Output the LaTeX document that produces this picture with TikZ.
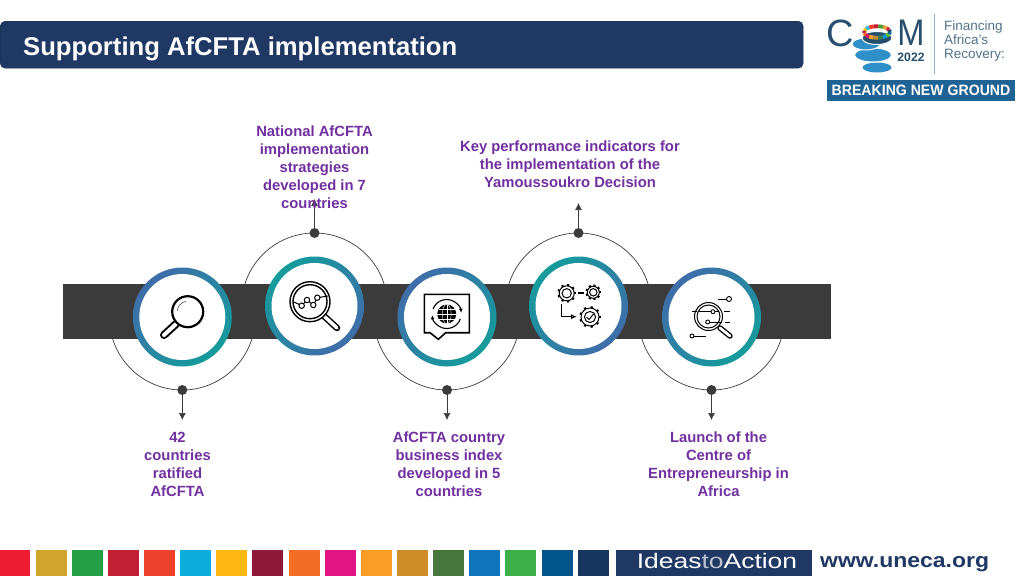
\documentclass[tikz,border=0pt]{standalone}
\usepackage{fontspec}
\setmainfont{Liberation Sans}
\usepackage{tikz}
\usetikzlibrary{arrows.meta}
\definecolor{navy}{HTML}{1F3864}
\definecolor{barcolor}{HTML}{3B3B3B}
\definecolor{ringblue}{HTML}{3F6DAA}
\definecolor{ringteal}{HTML}{149C9B}
\definecolor{purpletext}{HTML}{7030A0}
\definecolor{logoblue}{HTML}{1F6395}
\definecolor{logodark}{HTML}{264F6E}
\definecolor{coinblue}{HTML}{2E8FC9}
\tikzstyle{titlebar} = [rectangle, rounded corners=5pt, draw=navy!80!black, fill=navy, minimum width=803pt, minimum height=47pt, anchor=north west]
\tikzstyle{titletext} = [text=white, anchor=west, inner sep=0pt, font=\fontsize{25.65}{30}\selectfont\bfseries]
\tikzstyle{band} = [rectangle, fill=barcolor, draw=none, minimum width=768pt, minimum height=55pt]
\tikzstyle{ringdown} = [circle, inner sep=0pt, minimum size=99pt, top color=ringblue, bottom color=ringteal, shading angle=45]
\tikzstyle{ringup} = [circle, inner sep=0pt, minimum size=99pt, top color=ringteal, bottom color=ringblue, shading angle=45]
\tikzstyle{disc} = [circle, inner sep=0pt, minimum size=86pt, fill=white]
\tikzstyle{dot} = [circle, inner sep=0pt, minimum size=10pt, fill=barcolor]
\tikzstyle{arrow} = [line width=0.7pt, barcolor, -{Latex[length=7pt,width=7pt]}]
\tikzstyle{orbit} = [line width=0.7pt, barcolor]
\tikzstyle{caption} = [text=purpletext, align=center, inner sep=0pt, font=\fontsize{14.8}{18}\selectfont\bfseries]
\tikzstyle{icon} = [line width=1.4pt, black]
\tikzstyle{swatch} = [rectangle, inner sep=0pt, minimum width=31pt, minimum height=26.5pt, anchor=north west]
\newcommand{\gearicon}[3]{%
  \foreach \a in {0,40,...,320} \draw [line width=2.2pt] (#1,#2) ++(\a:#3pt) -- ++(\a:1.8pt);
  \draw [icon, line width=1pt, fill=white] (#1,#2) circle (#3pt);
  \draw [icon, line width=1pt] (#1,#2) circle (#3pt*0.62);
}

\begin{document}
\begin{tikzpicture}[x=1pt, y=-1pt]
\useasboundingbox (0,0) rectangle (1024,576);

\node (header) [titlebar] at (0,21) {};
\node (title) [titletext] at (23,49) {Supporting AfCFTA implementation};

\node (band) [band] at (447,311.5) {};

% orbits
\draw [orbit] (182.3,317) ++(197.5:73pt) arc [start angle=197.5, end angle=342.5, radius=73pt];
\draw [orbit] (314.5,306) ++(17.5:73pt) arc [start angle=17.5, end angle=162.5, radius=73pt];
\draw [orbit] (447,317) ++(197.5:73pt) arc [start angle=197.5, end angle=342.5, radius=73pt];
\draw [orbit] (578.5,306) ++(17.5:73pt) arc [start angle=17.5, end angle=162.5, radius=73pt];
\draw [orbit] (711.5,317) ++(197.5:73pt) arc [start angle=197.5, end angle=342.5, radius=73pt];

\node (ringa) [ringdown] at (182.3,317) {};
\node (ringb) [ringup] at (314.5,306) {};
\node (ringc) [ringdown] at (447,317) {};
\node (ringd) [ringup] at (578.5,306) {};
\node (ringe) [ringdown] at (711.5,317) {};
\node (disca) [disc] at (ringa) {};
\node (discb) [disc] at (ringb) {};
\node (discc) [disc] at (ringc) {};
\node (discd) [disc] at (ringd) {};
\node (disce) [disc] at (ringe) {};

\node (dota) [dot] at (182.3,390) {};
\node (dotb) [dot] at (314.5,233) {};
\node (dotc) [dot] at (447,390) {};
\node (dotd) [dot] at (578.5,233) {};
\node (dote) [dot] at (711.5,390) {};
\coordinate (tipa) at (182.3,420);
\coordinate (tipb) at (314.5,199);
\coordinate (tipc) at (447,420);
\coordinate (tipd) at (578.5,203);
\coordinate (tipe) at (711.5,420);
\draw [arrow] (dota) -- (tipa);
\draw [arrow] (dotb) -- (tipb);
\draw [arrow] (dotc) -- (tipc);
\draw [arrow] (dotd) -- (tipd);
\draw [arrow] (dote) -- (tipe);

\node (textb) [caption] at (314.5,167) {National AfCFTA\\implementation\\strategies\\developed in 7\\countries};
\node (textd) [caption] at (570,164) {Key performance indicators for\\the implementation of the\\Yamoussoukro Decision};
\node (texta) [caption] at (177.5,464) {42\\countries\\ratified\\AfCFTA};
\node (textc) [caption] at (449,464) {AfCFTA country\\business index\\developed in 5\\countries};
\node (texte) [caption] at (718.5,464) {Launch of the\\Centre of\\Entrepreneurship in\\Africa};

% magnifier icon
\draw [line width=8pt, line cap=round, black] (176,324) -- (164,335);
\draw [line width=4pt, line cap=round, white] (176,324) -- (164,335);
\draw [icon, line width=2.2pt, fill=white] (187.7,311.7) circle (15.5pt);
\draw [line width=0.6pt, black!70] (187.7,311.7) ++(100:10.5pt) arc [start angle=100, end angle=175, radius=10.5pt];

% chart icon
\draw [line width=6.5pt, line cap=round, black] (324,316) -- (337,328);
\draw [line width=3.5pt, line cap=round, white] (324,316) -- (337,328);
\draw [icon, fill=white] (310,301.7) circle (20pt);
\draw [icon] (310,301.7) circle (17pt);
\draw [line width=1pt] (294,302) -- (301.7,305.7) -- (307,300) -- (313.3,305) -- (317.3,297.7) -- (328,296);
\foreach \px/\py in {301.7/305.7, 307/300, 313.3/305, 317.3/297.7}
  \draw [line width=1pt, fill=white] (\px,\py) circle (2.7pt);

% globe icon
\draw [icon, line width=1.6pt, line join=miter] (424.3,294.3) -- (469.3,294.3) -- (469.3,332.7) -- (445.7,332.7) -- (438.3,339.3) -- (430,332.7) -- (424.3,332.7) -- cycle;
\fill [black] (446.7,314) circle (9.5pt);
\draw [white, line width=0.4pt] (437.2,314) -- (456.2,314) (446.7,304.5) -- (446.7,323.5) (438.5,309) -- (454.9,309) (438.5,319) -- (454.9,319);
\draw [white, line width=0.4pt] (446.7,314) ellipse (4.5pt and 9.5pt);
\draw [line width=1.1pt, -{Latex[length=4pt,width=4pt]}] (446.7,314) ++(160:14.5pt) arc [start angle=160, end angle=5, radius=14.5pt];
\draw [line width=1.1pt, -{Latex[length=4pt,width=4pt]}] (446.7,314) ++(340:14.5pt) arc [start angle=340, end angle=185, radius=14.5pt];

% gears icon
\gearicon{566.7}{293.3}{7.5}
\gearicon{593.3}{292.3}{6}
\gearicon{590}{317}{9}
\draw [line width=1.2pt] (578,293) -- (584,293);
\draw [line width=1pt, -{Latex[open,length=6pt,width=5pt]}] (561,304) -- (561,316.7) -- (577,316.7);
\draw [line width=1pt] (586.5,317) -- (589,319.5) -- (593.5,314);

% sliders icon
\draw [line width=5.5pt, line cap=round, black] (720,328) -- (730,336);
\draw [line width=2.8pt, line cap=round, white] (720,328) -- (730,336);
\draw [icon, line width=1pt, fill=white] (708.5,316.5) circle (14pt);
\draw [icon, line width=1pt] (708.5,316.5) circle (11.5pt);
\draw [line width=0.9pt] (691.7,311.7) -- (697,311.7) (699,311.7) -- (719,311.7) (724,311.7) -- (730,311.7);
\draw [line width=0.9pt] (708,322) -- (722,322) (725,322) -- (730,322);
\draw [line width=0.9pt, fill=white] (713,311.7) circle (2pt);
\draw [line width=0.9pt, fill=white] (707.7,322) circle (2pt);
\draw [line width=0.9pt] (718,299) -- (726.5,299);
\draw [line width=0.9pt, fill=white] (729,299) circle (2.5pt);
\draw [line width=0.9pt] (694,336) -- (706,336);
\draw [line width=0.9pt, fill=white] (692,336) circle (2pt);

% logo
\node (logoc) [text=logodark, inner sep=0pt, font=\fontsize{38}{38}\selectfont] at (840,33) {C};
\node (logom) [text=logodark, inner sep=0pt, font=\fontsize{37}{37}\selectfont] at (911,33) {\scalebox{0.88}[1]{M}};
\fill [coinblue] (877,67.5) ellipse (14.5pt and 5pt);
\draw [white, line width=1pt, fill=coinblue] (873,55) ellipse (18.5pt and 7pt);
\draw [white, line width=1pt, fill=coinblue] (866,44) ellipse (14pt and 6pt);
\draw [white, line width=1pt, fill=logodark] (877,38) ellipse (15pt and 6.5pt);
\foreach \col [count=\i] in {E5243B,DDA63A,4C9F38,C5192D,FF3A21,26BDE2,FCC30B,A21942,FD6925,DD1367,FD9D24,BF8B2E,3F7E44,0A97D9,56C02B,00689D,19486A}
{
  \definecolor{wheelcolor}{HTML}{\col}
  \draw [wheelcolor, line width=3.8pt] (877,32) ++(\i*21.18:13pt and 5.8pt) arc [start angle=\i*21.18, delta angle=21.5, x radius=13pt, y radius=5.8pt];
}
\node (logoyear) [text=logodark, inner sep=0pt, font=\fontsize{12.2}{13}\selectfont\bfseries] at (911,57.5) {2022};
\draw [logoblue!50, line width=0.7pt] (934,14) -- (934,74);
\node (logotext) [text=logodark!80, anchor=north west, align=left, inner sep=0pt, font=\fontsize{13.5}{14}\selectfont] at (944,21) {Financing\\Africa’s\\Recovery:};
\node (ground) [rectangle, fill=logoblue, text=white, inner sep=0pt, minimum width=188pt, minimum height=21pt, font=\fontsize{15}{16}\selectfont\bfseries] at (921,90.5) {\scalebox{0.94}[1]{BREAKING NEW GROUND}};

% footer
\foreach \col [count=\i] in {ED1C33,CFA52B,26A046,C11F33,EF402B,0BAEDB,FDB813,8F1838,F36D25,E11484,F99D26,CF8D2A,48773E,0F75BB,3EB049,02558B,18365F}
{
  \definecolor{swatchcolor}{HTML}{\col}
  \node (swatch\i) [swatch, fill=swatchcolor] at (\i*36.15-37,549.5) {};
}
\node (ideasbox) [rectangle, fill=navy, inner sep=0pt, minimum width=196pt, minimum height=26.5pt] at (714,562.75) {};
\node (ideas) [text=white, inner sep=0pt, font=\fontsize{21}{22}\selectfont] at (717,561) {\scalebox{1.26}[1]{Ideas{\color{white!70!navy}to}Action}};
\node (site) [text=navy, anchor=west, inner sep=0pt, font=\fontsize{20.5}{22}\selectfont\bfseries] at (820,564) {\scalebox{1.12}[1]{www.uneca.org}};

\end{tikzpicture}
\end{document}
